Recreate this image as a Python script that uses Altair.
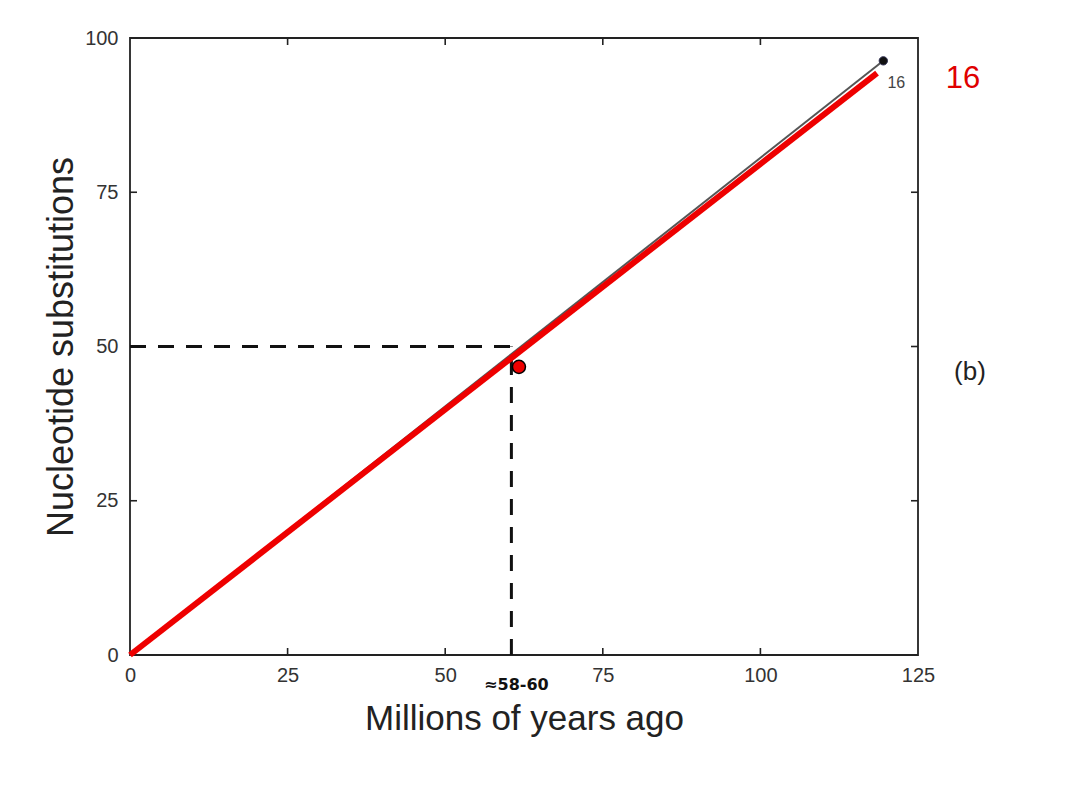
import altair as alt
import pandas as pd

# ---- data ----
x_ticks = [0, 25, 50, 75, 100, 125]
y_ticks = [0, 25, 50, 75, 100]
inner_x_ticks = [25, 50, 75, 100]
inner_y_ticks = [25, 50, 75]

fit_x = [0, 118.5]
fit_y = [0, 94.3]

orig_x = [0, 119.5]
orig_y = [0, 96.3]

point_x = [119.5]
point_y = [96.3]
point_label = ["16"]

red_point_x = [61.7]
red_point_y = [46.7]

h_dash_x = [0, 60.5]
h_dash_y = [50, 50]
v_dash_x = [60.5, 60.5]
v_dash_y = [0, 50]

split_label = ["≈58-60"]
side_labels = ["16", "(b)"]

W, H = 788, 617
FONT = "Liberation Sans"

xs = alt.Scale(domain=[0, 125], nice=False, zero=False)
ys = alt.Scale(domain=[0, 100], nice=False, zero=False)

xaxis = alt.Axis(values=x_ticks, title="Millions of years ago", domain=False, ticks=False,
                 grid=False, labelPadding=10, labelFontSize=20, labelColor="#333",
                 labelFont=FONT, titleFont=FONT, titleFontSize=35, titleFontWeight="normal",
                 titleColor="#222", titlePadding=16, labelFlush=False)
yaxis = alt.Axis(values=y_ticks, title="Nucleotide substitutions", domain=False, ticks=False,
                 grid=False, labelPadding=12, labelFontSize=20, labelColor="#333",
                 labelFont=FONT, titleFont=FONT, titleFontSize=36, titleFontWeight="normal",
                 titleColor="#222", titlePadding=4, labelFlush=False)

# invisible base layer carrying the axes
base = alt.Chart(pd.DataFrame({"x": x_ticks[:5], "y": y_ticks})).mark_point(opacity=0).encode(
    x=alt.X("x:Q", scale=xs, axis=xaxis),
    y=alt.Y("y:Q", scale=ys, axis=yaxis),
)

xt = pd.DataFrame({"x": inner_x_ticks})
yt = pd.DataFrame({"y": inner_y_ticks})
tick_style = dict(color="#222", strokeWidth=1.6)
bottom_ticks = alt.Chart(xt).mark_rule(**tick_style).encode(
    x=alt.X("x:Q", scale=xs), y=alt.value(H), y2=alt.value(H - 7))
top_ticks = alt.Chart(xt).mark_rule(**tick_style).encode(
    x=alt.X("x:Q", scale=xs), y=alt.value(0), y2=alt.value(7))
left_ticks = alt.Chart(yt).mark_rule(**tick_style).encode(
    y=alt.Y("y:Q", scale=ys), x=alt.value(0), x2=alt.value(7))
right_ticks = alt.Chart(yt).mark_rule(**tick_style).encode(
    y=alt.Y("y:Q", scale=ys), x=alt.value(W), x2=alt.value(W - 7))

dash_style = dict(color="#111", strokeWidth=3, strokeDash=[16, 12])
h_dash = alt.Chart(pd.DataFrame({"x": h_dash_x, "y": h_dash_y})).mark_line(**dash_style).encode(
    x=alt.X("x:Q", scale=xs), y=alt.Y("y:Q", scale=ys))
v_dash = alt.Chart(pd.DataFrame({"x": v_dash_x, "y": v_dash_y})).mark_line(**dash_style).encode(
    x=alt.X("x:Q", scale=xs), y=alt.Y("y:Q", scale=ys), order=alt.Order("y:Q"))

orig_line = alt.Chart(pd.DataFrame({"x": orig_x, "y": orig_y})).mark_line(
    color="#555", strokeWidth=2).encode(x=alt.X("x:Q", scale=xs), y=alt.Y("y:Q", scale=ys))

fit_line = alt.Chart(pd.DataFrame({"x": fit_x, "y": fit_y})).mark_line(
    color="#ee0000", strokeWidth=6).encode(x=alt.X("x:Q", scale=xs), y=alt.Y("y:Q", scale=ys))

pt_df = pd.DataFrame({"x": point_x, "y": point_y, "label": point_label})
black_pt = alt.Chart(pt_df).mark_point(
    filled=True, color="#111", size=70, stroke="#335", strokeWidth=1, opacity=1).encode(
    x=alt.X("x:Q", scale=xs), y=alt.Y("y:Q", scale=ys))
pt_label = alt.Chart(pt_df).mark_text(
    font=FONT, fontSize=16, color="#444", dx=13, dy=22).encode(
    x=alt.X("x:Q", scale=xs), y=alt.Y("y:Q", scale=ys), text="label:N")

red_pt = alt.Chart(pd.DataFrame({"x": red_point_x, "y": red_point_y})).mark_point(
    filled=True, color="#ee0000", size=170, stroke="black", strokeWidth=1.5, opacity=1).encode(
    x=alt.X("x:Q", scale=xs), y=alt.Y("y:Q", scale=ys))

split_df = pd.DataFrame({"x": [v_dash_x[0]], "label": split_label})
split_text = alt.Chart(split_df).mark_text(
    font="DejaVu Sans", fontSize=16, fontWeight="bold", color="#111", dx=5).encode(
    x=alt.X("x:Q", scale=xs), y=alt.value(H + 30), text="label:N")

red16 = alt.Chart(pd.DataFrame({"label": [side_labels[0]]})).mark_text(
    font=FONT, fontSize=31, color="#e00000", align="center").encode(
    x=alt.value(W + 45), y=alt.value(41), text="label:N")
b_text = alt.Chart(pd.DataFrame({"label": [side_labels[1]]})).mark_text(
    font=FONT, fontSize=26, color="#222", align="center").encode(
    x=alt.value(W + 52), y=alt.value(334), text="label:N")

chart = alt.layer(
    base, bottom_ticks, top_ticks, left_ticks, right_ticks,
    h_dash, v_dash, orig_line, fit_line, black_pt, pt_label, red_pt,
    split_text, red16, b_text,
).properties(
    width=W, height=H,
    autosize=alt.AutoSizeParams(type="none"),
    padding={"left": 122, "top": 30, "right": 155, "bottom": 125},
    background="white",
).configure_view(
    stroke="#222", strokeWidth=1.8
)

chart.save("out.html", embed_options={"renderer": "svg", "actions": False})
